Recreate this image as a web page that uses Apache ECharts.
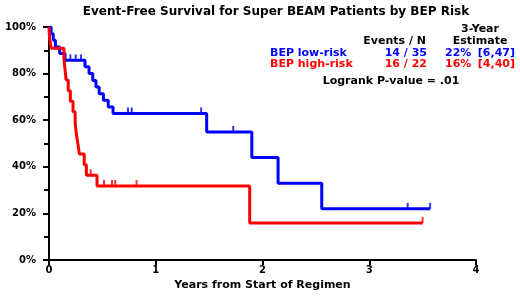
<!DOCTYPE html>
<html>
<head>
<meta charset="utf-8">
<script src="https://cdn.jsdelivr.net/npm/echarts@6/dist/echarts.min.js"></script>
<style>html,body{margin:0;padding:0;background:#fff}#c{width:520px;height:296px}</style>
</head>
<body>
<div id="c"></div>
<script>
// ---- data ----
var titleText = 'Event-Free Survival for Super BEAM Patients by BEP Risk';
var xAxisName = 'Years from Start of Regimen';
var yTicks = [0, 20, 40, 60, 80, 100];
var xTicks = [0, 1, 2, 3, 4];

var lowRiskTimes = [0, 0.02, 0.04, 0.06, 0.10, 0.15, 0.337, 0.375, 0.41, 0.44, 0.47, 0.51, 0.555, 0.60, 1.477, 1.90, 2.146, 2.555, 3.57];
var lowRiskSurv  = [100, 97.1, 94.3, 91.4, 88.6, 85.7, 82.9, 80.0, 77.1, 74.3, 71.4, 68.6, 65.7, 62.9, 55.0, 44.0, 33.0, 22.0, 22.0];
var lowRiskCensorTimes = [0.20, 0.25, 0.30, 0.74, 0.775, 1.425, 1.726, 3.36, 3.57];
var lowRiskCensorSurv  = [85.7, 85.7, 85.7, 62.9, 62.9, 62.9, 55.0, 22.0, 22.0];

var highRiskTimes = [0, 0.005, 0.02, 0.14, 0.15, 0.16, 0.18, 0.20, 0.225, 0.245, 0.255, 0.27, 0.285, 0.33, 0.35, 0.45, 1.88, 3.50];
var highRiskSurv  = [100, 95.5, 90.9, 86.4, 81.8, 77.3, 72.7, 68.2, 63.6, 59.1, 54.5, 50.0, 45.5, 40.9, 36.4, 31.8, 15.9, 15.9];
var highRiskCensorTimes = [0.39, 0.515, 0.59, 0.62, 0.82, 3.50];
var highRiskCensorSurv  = [36.4, 31.8, 31.8, 31.8, 31.8, 15.9];

var groupNames = ['BEP low-risk', 'BEP high-risk'];
var groupEvents = ['14 / 35', '16 / 22'];
var groupEst = ['22%', '16%'];
var groupCI = ['[6,47]', '[4,40]'];
var pValueText = 'Logrank P-value = .01';

var BLUE = '#0000ff', RED = '#ff0000';
var FONT = 'DejaVu Sans';

function pairs(xs, ys) { return xs.map(function (x, i) { return [x, ys[i]]; }); }

var chart = echarts.init(document.getElementById('c'), null, {renderer: 'canvas'});

function txt(text, x, y, color, align, size) {
  return {
    type: 'text', x: x, y: y, z: 10,
    style: {
      text: text, fill: color, font: 'bold ' + (size || 11) + 'px "' + FONT + '"',
      textAlign: align || 'left', textVerticalAlign: 'middle'
    }
  };
}

var option = {
  backgroundColor: '#fff',
  animation: false,
  title: {
    text: titleText, left: 271, top: 1, textAlign: 'center',
    textStyle: {fontFamily: FONT, fontWeight: 'bold', fontSize: 12, color: '#000'}
  },
  grid: {left: 49, right: 44, top: 27, bottom: 34},
  xAxis: {
    type: 'value', min: 0, max: 4, interval: 1,
    name: xAxisName, nameLocation: 'middle', nameGap: 12,
    nameTextStyle: {fontFamily: FONT, fontWeight: 'bold', fontSize: 11, color: '#000'},
    axisLine: {onZero: false, lineStyle: {color: '#000', width: 2}},
    axisTick: {length: 5, lineStyle: {color: '#000', width: 2}},
    axisLabel: {margin: 5, fontFamily: FONT, fontWeight: 'bold', fontSize: 10, color: '#000'},
    splitLine: {show: false}
  },
  yAxis: {
    type: 'value', min: 0, max: 100, interval: 20,
    axisLine: {show: true, onZero: false, lineStyle: {color: '#000', width: 2}},
    axisTick: {show: true, length: 6, lineStyle: {color: '#000', width: 2}},
    minorTick: {show: true, splitNumber: 2, length: 5, lineStyle: {color: '#000', width: 2}},
    axisLabel: {margin: 13, fontFamily: FONT, fontWeight: 'bold', fontSize: 10, color: '#000',
      formatter: function (v) { return v + '%'; }},
    splitLine: {show: false}
  },
  series: [
    {type: 'line', step: 'end', data: pairs(lowRiskTimes, lowRiskSurv), symbol: 'none',
      lineStyle: {color: BLUE, width: 3}, z: 3},
    {type: 'line', step: 'end', data: pairs(highRiskTimes, highRiskSurv), symbol: 'none',
      lineStyle: {color: RED, width: 3}, z: 4},
    {type: 'scatter', data: pairs(lowRiskCensorTimes, lowRiskCensorSurv), symbol: 'rect',
      symbolSize: [2, 6], symbolOffset: [0, -3], itemStyle: {color: BLUE}, z: 3},
    {type: 'scatter', data: pairs(highRiskCensorTimes, highRiskCensorSurv), symbol: 'rect',
      symbolSize: [2, 6], symbolOffset: [0, -3], itemStyle: {color: RED}, z: 4}
  ],
  graphic: [
    txt('3-Year', 480, 29, '#000', 'center'),
    txt('Events / N', 426, 41, '#000', 'right'),
    txt('Estimate', 480, 41, '#000', 'center'),
    txt(groupNames[0], 270, 53, BLUE, 'left'),
    txt(groupEvents[0], 427, 53, BLUE, 'right'),
    txt(groupEst[0], 445, 53, BLUE, 'left'),
    txt(groupCI[0], 515, 53, BLUE, 'right'),
    txt(groupNames[1], 270, 64, RED, 'left'),
    txt(groupEvents[1], 427, 64, RED, 'right'),
    txt(groupEst[1], 445, 64, RED, 'left'),
    txt(groupCI[1], 515, 64, RED, 'right'),
    txt(pValueText, 391, 81, '#000', 'center')
  ]
};
chart.setOption(option);
</script>
</body>
</html>
